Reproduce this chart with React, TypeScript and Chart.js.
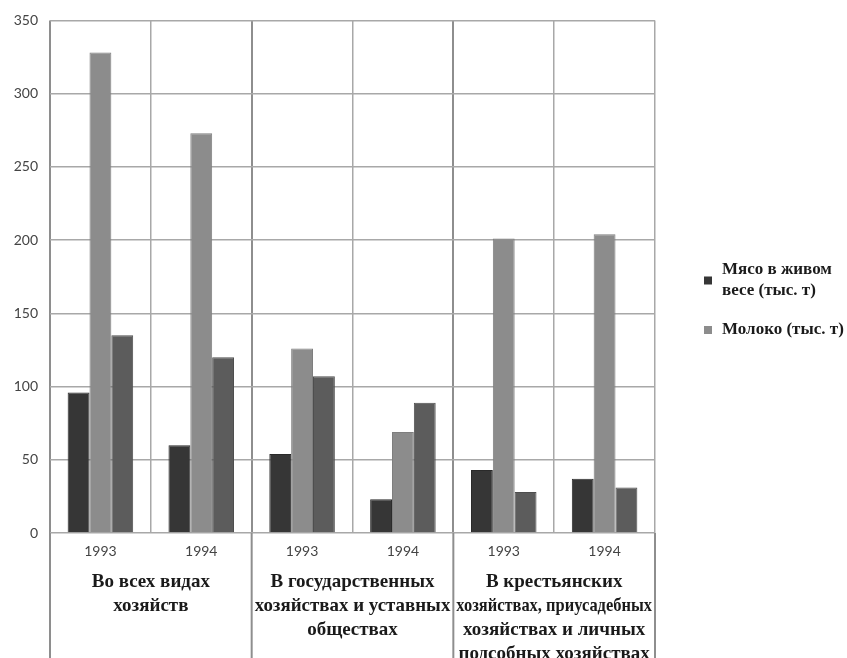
import React, { useEffect, useRef } from "react";
import { Chart, registerables } from "chart.js";
Chart.register(...registerables);

const categories = ["1993", "1994", "1993", "1994", "1993", "1994"];
const meat = [96, 60, 54, 23, 43, 37];
const milk = [328, 273, 126, 69, 201, 204];
const third = [135, 120, 107, 89, 28, 31];
const seriesColors = ["#363636", "#8c8c8c", "#5c5c5c"];
const groupLabels = [
  ["Во всех видах", "хозяйств"],
  ["В государственных", "хозяйствах и уставных", "обществах"],
  ["В крестьянских", "хозяйствах, приусадебных", "хозяйствах и личных", "подсобных хозяйствах"],
];
const legendLabels = [["Мясо в живом", "весе (тыс. т)"], ["Молоко (тыс. т)"]];
const yMax = 350;
const yStep = 50;

const serif = "'Liberation Serif', 'Times New Roman', serif";

const overlay = {
  id: "overlay",
  afterDraw(chart: any) {
    const ctx = chart.ctx;
    const xs = chart.scales.x;
    const area = chart.chartArea;
    const H = chart.height;
    const half = (xs.getPixelForValue(1) - xs.getPixelForValue(0)) / 2;
    ctx.save();
    ctx.strokeStyle = "#8e8e8e";
    ctx.lineWidth = 2;
    for (let g = 0; g <= 3; g++) {
      const x = g < 3 ? xs.getPixelForValue(g * 2) - half : xs.getPixelForValue(5) + half;
      ctx.beginPath();
      ctx.moveTo(x, area.bottom);
      ctx.lineTo(x, H);
      ctx.stroke();
    }
    ctx.fillStyle = "#1a1a1a";
    ctx.font = "bold 19px " + serif;
    ctx.textAlign = "center";
    ctx.textBaseline = "middle";
    groupLabels.forEach((lines, g) => {
      const cx = (xs.getPixelForValue(g * 2) + xs.getPixelForValue(g * 2 + 1)) / 2;
      lines.forEach((t, i) => ctx.fillText(t, cx, 582 + i * 24, half * 4 - 6));
    });
    ctx.font = "bold 17px " + serif;
    ctx.textAlign = "left";
    let y = 270;
    legendLabels.forEach((lines, i) => {
      const mid = y + ((lines.length - 1) * 21) / 2;
      ctx.fillStyle = seriesColors[i];
      ctx.fillRect(704, mid - 4, 8, 8);
      ctx.fillStyle = "#1a1a1a";
      lines.forEach((t, j) => ctx.fillText(t, 722, y + j * 21));
      y += lines.length * 21 + 18;
    });
    ctx.restore();
  },
};

export default function App() {
  const ref = useRef<HTMLCanvasElement>(null);
  useEffect(() => {
    const chart = new Chart(ref.current!, {
      type: "bar",
      data: {
        labels: categories,
        datasets: [
          { label: "Мясо в живом весе (тыс. т)", data: meat, backgroundColor: seriesColors[0], borderColor: "#2a2a2a", borderWidth: 1 },
          { label: "Молоко (тыс. т)", data: milk, backgroundColor: seriesColors[1], borderColor: "#7e7e7e", borderWidth: 1 },
          { label: "", data: third, backgroundColor: seriesColors[2], borderColor: "#4e4e4e", borderWidth: 1 },
        ],
      },
      options: {
        responsive: false,
        animation: false,
        devicePixelRatio: 1,
        layout: { padding: { left: 0, right: 192, top: 17, bottom: 0 } },
        plugins: { legend: { display: false }, tooltip: { enabled: false } },
        datasets: { bar: { categoryPercentage: 0.65, barPercentage: 1 } },
        scales: {
          x: {
            afterFit: (s: any) => { s.height = 125; },
            grid: {
              offset: true,
              drawTicks: false,
              color: (c: any) => (c.index % 2 === 0 ? "#8e8e8e" : "#a8a8a8"),
              lineWidth: (c: any) => (c.index % 2 === 0 ? 2 : 1.5),
            },
            border: { display: false },
            ticks: { padding: 10, color: "#444", font: { family: "Lato", size: 14 } },
          },
          y: {
            min: 0,
            max: yMax,
            afterFit: (s: any) => { s.width = 50; },
            grid: { drawTicks: false, color: "#a8a8a8", lineWidth: 1.5 },
            border: { display: false },
            ticks: { stepSize: yStep, padding: 12, color: "#444", font: { family: "Lato", size: 14 } },
          },
        },
      },
      plugins: [overlay],
    });
    return () => chart.destroy();
  }, []);
  return (
    <div style={{ position: "absolute", left: 0, top: 0, width: 847, height: 658, background: "#fff" }}>
      <canvas ref={ref} width={847} height={658} />
    </div>
  );
}
